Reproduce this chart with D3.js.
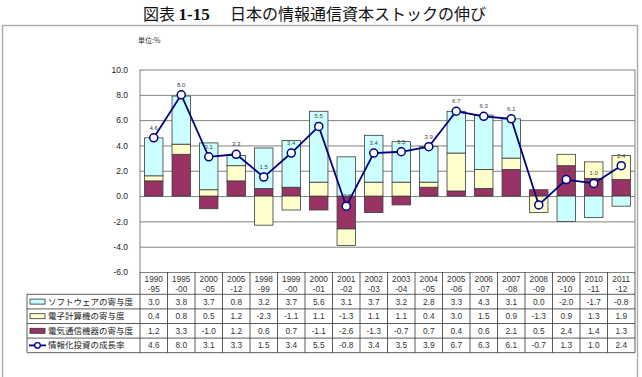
<!DOCTYPE html>
<html>
<head>
<meta charset="utf-8">
<script src="https://cdn.jsdelivr.net/npm/d3@7"></script>
<style>
body { margin: 0; background: #fff; }
svg { display: block; font-family: "Liberation Sans", "Noto Sans CJK JP", sans-serif; }
</style>
</head>
<body>
<script>
var categories = ["1990-95","1995-00","2000-05","2005-12","1998-99","1999-00","2000-01","2001-02","2002-03",
  "2003-04","2004-05","2005-06","2006-07","2007-08","2008-09","2009-10","2010-11","2011-12"];
var software = [3.0,3.8,3.7,0.8,3.2,3.7,5.6,3.1,3.7,3.2,2.8,3.3,4.3,3.1,0.0,-2.0,-1.7,-0.8];
var computer = [0.4,0.8,0.5,1.2,-2.3,-1.1,1.1,-1.3,1.1,1.1,0.4,3.0,1.5,0.9,-1.3,0.9,1.3,1.9];
var telecom = [1.2,3.3,-1.0,1.2,0.6,0.7,-1.1,-2.6,-1.3,-0.7,0.7,0.4,0.6,2.1,0.5,2.4,1.4,1.3];
var growth = [4.6,8.0,3.1,3.3,1.5,3.4,5.5,-0.8,3.4,3.5,3.9,6.7,6.3,6.1,-0.7,1.3,1.0,2.4];
var yTicks = [-6,-4,-2,0,2,4,6,8,10];

var seriesNames = ["ソフトウェアの寄与度","電子計算機の寄与度","電気通信機器の寄与度","情報化投資の成長率"];
var colors = { software: "#ccffff", computer: "#ffffcc", telecom: "#993366", line: "#000080" };

var W = 642, H = 377;
var plotL = 140, plotR = 635, plotT = 69.5, plotB = 272;

// plain hyphen minus, like the original
var fmt = function(d) { return d.toFixed(1); };

var svg = d3.select("body").append("svg").attr("width", W).attr("height", H);

// outer frame (runs off the bottom of the picture)
svg.append("rect").attr("x", 2.5).attr("y", 25.5).attr("width", 635).attr("height", 400)
  .attr("fill", "none").attr("stroke", "#a8a8a8").attr("stroke-width", 1.3);

// title
var title = svg.append("text").attr("x", 143).attr("y", 20).attr("font-size", 16).attr("fill", "#111");
title.append("tspan").attr("font-family", "Noto Sans CJK JP").text("図表 ");
title.append("tspan").attr("font-family", "Liberation Serif").attr("font-weight", "bold").attr("font-size", 17).text("1-15");
title.append("tspan").attr("x", 230).attr("font-family", "Noto Sans CJK JP").text("日本の情報通信資本ストックの伸び");

svg.append("text").attr("x", 138).attr("y", 43).attr("font-size", 7).attr("fill", "#333")
  .attr("font-family", "Noto Sans CJK JP").text("単位:%");

var x = d3.scaleBand().domain(categories).range([plotL, plotR]).paddingInner(0.33).paddingOuter(0.165);
var xCol = d3.scaleBand().domain(categories).range([plotL, plotR]);
var y = d3.scaleLinear().domain([-6, 10]).range([plotB, plotT]);

// gridlines
svg.append("g").attr("transform", "translate(" + plotL + ",0)")
  .call(d3.axisLeft(y).tickValues(yTicks).tickSize(-(plotR - plotL)).tickFormat(""))
  .call(function(g) {
    g.select(".domain").remove();
    g.selectAll("line").attr("stroke", "#808080").attr("stroke-width", 1);
  });

// y axis labels
svg.append("g").attr("transform", "translate(" + plotL + ",0)")
  .call(d3.axisLeft(y).tickValues(yTicks).tickSize(0).tickPadding(12).tickFormat(fmt))
  .call(function(g) {
    g.select(".domain").remove();
    g.selectAll("text").attr("font-size", 8.5).attr("fill", "#222").attr("font-family", "Liberation Sans");
  });

svg.append("line").attr("x1", plotL).attr("x2", plotL).attr("y1", plotT).attr("y2", plotB)
  .attr("stroke", "#808080");
svg.append("line").attr("x1", plotR).attr("x2", plotR).attr("y1", plotT).attr("y2", plotB)
  .attr("stroke", "#808080");

// stacked bars: positive and negative stacks, telecom nearest zero, then computer, then software
var segs = [];
categories.forEach(function(c, i) {
  var pos = 0, neg = 0;
  [["telecom", telecom[i]], ["computer", computer[i]], ["software", software[i]]].forEach(function(s) {
    var v = s[1];
    if (v >= 0) { segs.push({ c: c, key: s[0], y0: pos, y1: pos + v }); pos += v; }
    else { segs.push({ c: c, key: s[0], y0: neg, y1: neg + v }); neg += v; }
  });
});

svg.append("g").selectAll("rect").data(segs).join("rect")
  .attr("x", function(d) { return x(d.c); })
  .attr("width", x.bandwidth())
  .attr("y", function(d) { return y(Math.max(d.y0, d.y1)); })
  .attr("height", function(d) { return Math.abs(y(d.y0) - y(d.y1)); })
  .attr("fill", function(d) { return colors[d.key]; })
  .attr("stroke", "#3a3a3a").attr("stroke-width", 0.8);

// growth line
var line = d3.line()
  .x(function(d, i) { return x(categories[i]) + x.bandwidth() / 2; })
  .y(function(d) { return y(d); });

svg.append("path").datum(growth).attr("d", line)
  .attr("fill", "none").attr("stroke", colors.line).attr("stroke-width", 1.8);

svg.append("g").selectAll("circle").data(growth).join("circle")
  .attr("cx", function(d, i) { return x(categories[i]) + x.bandwidth() / 2; })
  .attr("cy", function(d) { return y(d); })
  .attr("r", 4).attr("fill", "#fff").attr("stroke", colors.line).attr("stroke-width", 1.5);

svg.append("g").selectAll("text").data(growth).join("text")
  .attr("x", function(d, i) { return x(categories[i]) + x.bandwidth() / 2; })
  .attr("y", function(d) { return y(d) - 8; })
  .attr("text-anchor", "middle").attr("font-size", 6).attr("fill", "#444")
  .text(fmt);

// data table
var rowTop = plotB + 22.3, rowH = 14.6;
var tbl = svg.append("g").attr("font-family", "Liberation Sans").attr("fill", "#333");

// header cells
tbl.selectAll(".hdr").data(categories).join("text")
  .attr("class", "hdr")
  .attr("x", function(c) { return xCol(c) + xCol.bandwidth() / 2; })
  .attr("text-anchor", "middle").attr("font-size", 8.3)
  .each(function(c) {
    var p = c.split("-");
    d3.select(this).append("tspan").attr("x", xCol(c) + xCol.bandwidth() / 2).attr("y", plotB + 9.5).text(p[0]);
    d3.select(this).append("tspan").attr("x", xCol(c) + xCol.bandwidth() / 2).attr("y", plotB + 19.5).text("-" + p[1]);
  });

var rows = [software, computer, telecom, growth];
rows.forEach(function(vals, r) {
  tbl.append("g").selectAll("text").data(vals).join("text")
    .attr("x", function(d, i) { return xCol(categories[i]) + xCol.bandwidth() / 2; })
    .attr("y", rowTop + r * rowH + rowH / 2 + 3)
    .attr("text-anchor", "middle").attr("font-size", 8.3)
    .text(fmt);
});

// legend column
var legL = 27;
seriesNames.forEach(function(name, r) {
  var cy = rowTop + r * rowH + rowH / 2;
  if (r < 3) {
    var key = ["software", "computer", "telecom"][r];
    svg.append("rect").attr("x", 30).attr("y", cy - 2.5).attr("width", 15).attr("height", 5)
      .attr("fill", colors[key]).attr("stroke", "#333").attr("stroke-width", 0.8);
  } else {
    svg.append("line").attr("x1", 29).attr("x2", 46).attr("y1", cy).attr("y2", cy)
      .attr("stroke", colors.line).attr("stroke-width", 1.8);
    svg.append("circle").attr("cx", 37.5).attr("cy", cy).attr("r", 2.8)
      .attr("fill", "#fff").attr("stroke", colors.line).attr("stroke-width", 1.3);
  }
  svg.append("text").attr("x", 48).attr("y", cy + 3).attr("font-size", 8.5)
    .attr("font-family", "Noto Sans CJK JP").attr("fill", "#222").text(name);
});

// table grid lines
var grid = svg.append("g").attr("stroke", "#333").attr("stroke-width", 0.8);
var tableBottom = rowTop + 4 * rowH;
d3.range(5).forEach(function(r) {
  grid.append("line").attr("x1", legL).attr("x2", plotR)
    .attr("y1", rowTop + r * rowH).attr("y2", rowTop + r * rowH);
});
grid.append("line").attr("x1", legL).attr("x2", legL).attr("y1", rowTop).attr("y2", tableBottom);
categories.concat([null]).forEach(function(c, i) {
  var xx = c ? xCol(c) : plotR;
  grid.append("line").attr("x1", xx).attr("x2", xx).attr("y1", plotB).attr("y2", tableBottom);
});
</script>
</body>
</html>
